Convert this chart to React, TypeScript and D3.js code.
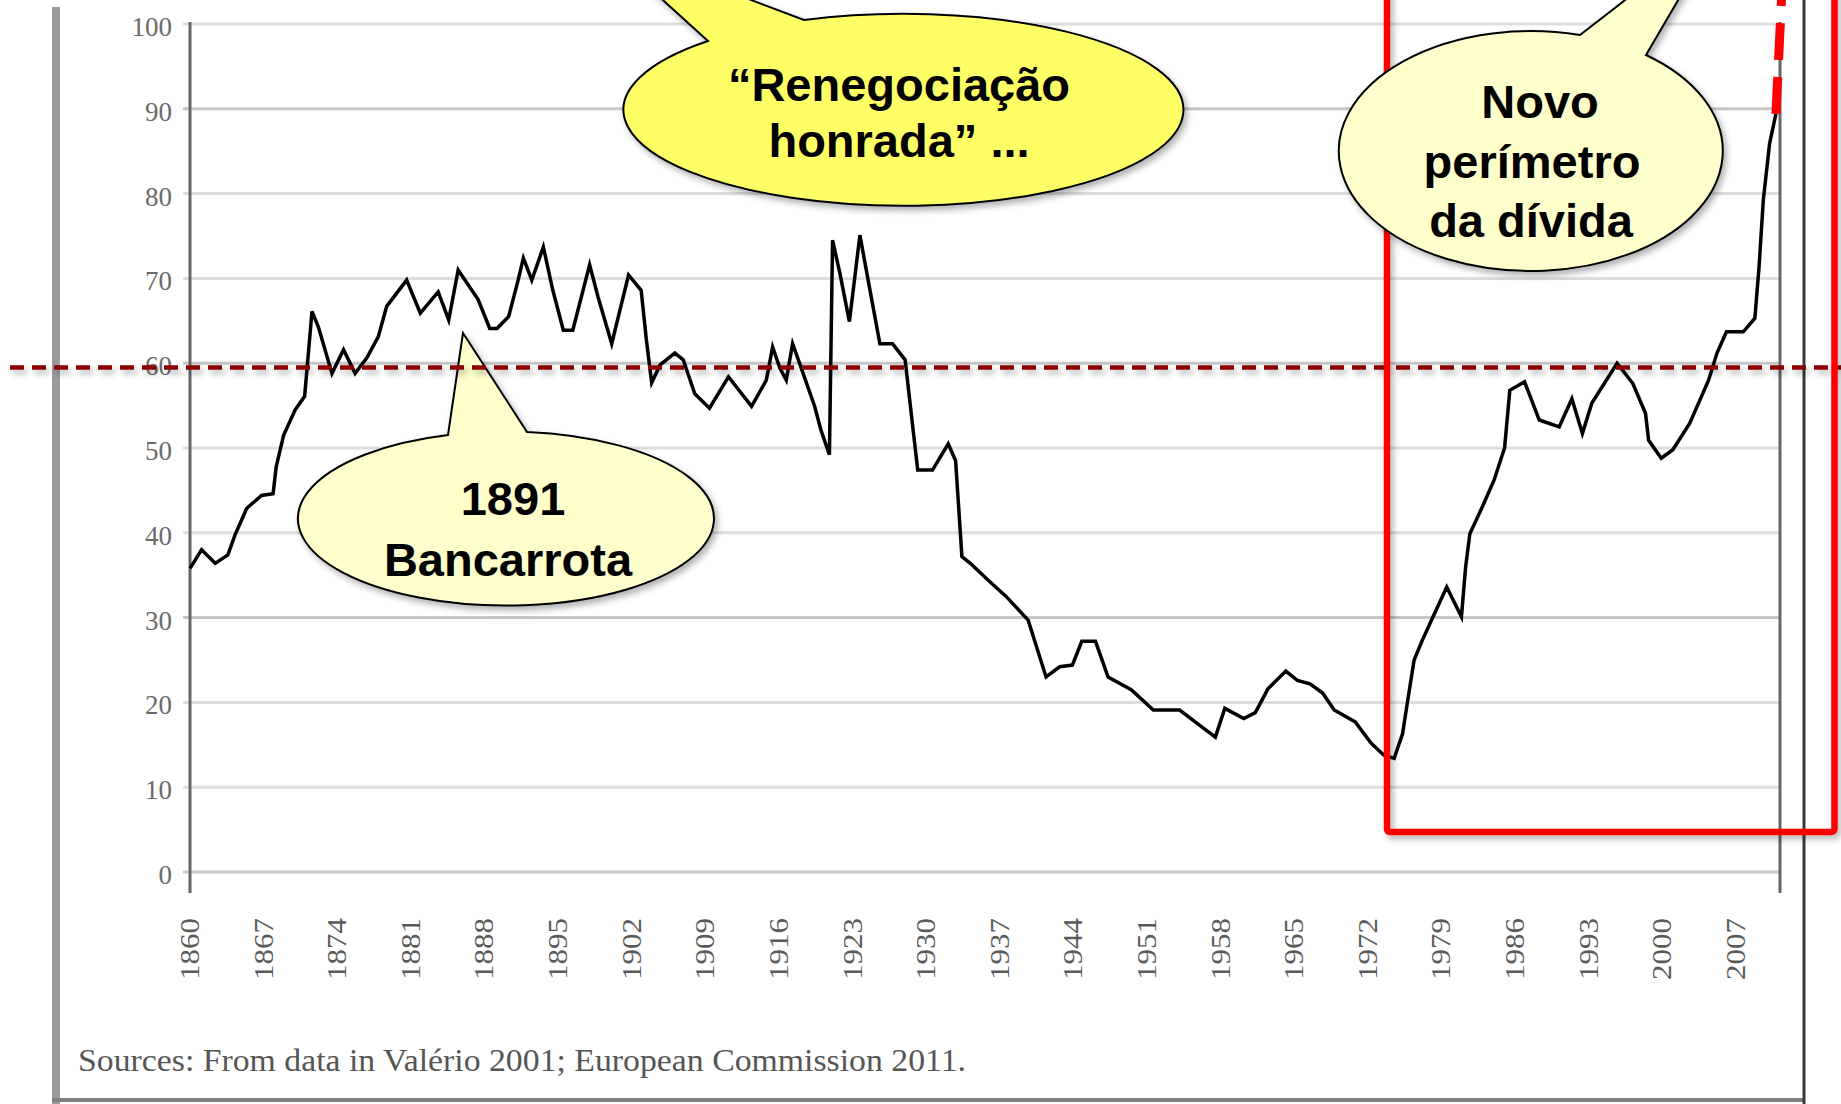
import { useEffect, useRef } from 'react';
import * as d3 from 'd3';

// public debt, % of GDP (year, value)
const debtSeries: [number, number][] = [
  [1860, 35.8], [1861.1, 38.0], [1862.4, 36.4], [1863.6, 37.4], [1864.3, 39.8],
  [1865.4, 42.9], [1866.8, 44.4], [1867.9, 44.6], [1868.2, 47.8], [1868.9, 51.5],
  [1870, 54.5], [1870.9, 56.1], [1871.6, 66.1], [1872.2, 64.3], [1873.5, 58.8],
  [1874.6, 61.6], [1875.7, 58.8], [1876.8, 60.6], [1877.9, 63.1], [1878.7, 66.7],
  [1880.6, 69.8], [1881.9, 65.9], [1883.6, 68.4], [1884.6, 65.1], [1885.5, 71.0],
  [1887.4, 67.5], [1888.5, 64.1], [1889.2, 64.1], [1890.3, 65.5], [1891.2, 69.8],
  [1891.7, 72.4], [1892.5, 69.8], [1893.6, 73.7], [1894.5, 68.6], [1895.5, 63.9],
  [1896.4, 63.9], [1898, 71.6], [1898.8, 67.8], [1900.1, 62.3], [1901.7, 70.4],
  [1902.9, 68.6], [1903.4, 62.7], [1903.9, 57.7], [1904.7, 59.8], [1906.1, 61.2],
  [1906.9, 60.4], [1908, 56.4], [1909.4, 54.7], [1911.2, 58.4], [1913.4, 54.9],
  [1914.8, 58.0], [1915.4, 61.9], [1916.1, 59.4], [1916.7, 58.0], [1917.3, 62.3],
  [1918.3, 58.8], [1919.4, 54.9], [1920, 52.1], [1920.8, 49.2], [1921.1, 74.5],
  [1921.8, 70.6], [1922.7, 64.9], [1923.7, 75.1], [1924.6, 69.0], [1925.6, 62.3],
  [1926.8, 62.3], [1928, 60.4], [1928.8, 51.7], [1929.2, 47.4], [1930.6, 47.4],
  [1932.1, 50.5], [1932.8, 48.5], [1933.4, 37.2], [1934.2, 36.4], [1935.9, 34.4],
  [1937.6, 32.5], [1939.7, 29.7], [1941.4, 23.0], [1942.7, 24.2], [1943.9, 24.4],
  [1944.8, 27.2], [1946.1, 27.2], [1947.3, 23.0], [1949.5, 21.5], [1951.6, 19.1],
  [1954.1, 19.1], [1955.8, 17.5], [1957.5, 15.9], [1958.4, 19.3], [1960.2, 18.1],
  [1961.3, 18.8], [1962.5, 21.6], [1964.2, 23.7], [1965.3, 22.6], [1966.5, 22.2],
  [1967.7, 21.1], [1968.8, 19.1], [1970.8, 17.7], [1972.3, 15.2], [1973.5, 13.8],
  [1974.5, 13.4], [1975.3, 16.3], [1975.8, 20.3], [1976.4, 25.0], [1977.2, 27.4],
  [1978.2, 30.1], [1979.5, 33.6], [1980.9, 30.1], [1981.3, 36.0], [1981.7, 39.9],
  [1982.9, 43.1], [1984, 46.2], [1985, 50.0], [1985.5, 56.8], [1986.9, 57.8],
  [1988.3, 53.3], [1990.2, 52.5], [1991.4, 55.8], [1992.4, 51.7], [1993.3, 55.3],
  [1995.7, 60.0], [1997.2, 57.6], [1998.4, 54.1], [1998.7, 50.9], [1999.9, 48.8],
  [2001, 49.8], [2002.6, 52.9], [2004.4, 58.0], [2005.2, 61.2], [2006.1, 63.7],
  [2007.7, 63.7], [2008.8, 65.3], [2009.2, 71.4], [2009.6, 79.2], [2010.2, 85.9],
  [2010.8, 89.4],
];

// red dashed continuation past the top of the chart
const debtExtension: [number, number][] = [[2010.8, 89.4], [2011.85, 116]];

const referenceLevel = 59.5;
const yTicks = [0, 10, 20, 30, 40, 50, 60, 70, 80, 90, 100];
const xTickYears = [
  1860, 1867, 1874, 1881, 1888, 1895, 1902, 1909, 1916, 1923, 1930,
  1937, 1944, 1951, 1958, 1965, 1972, 1979, 1986, 1993, 2000, 2007,
];
const sourceNote = 'Sources: From data in Valério 2001; European Commission 2011.';

const bubbles = [
  {
    lines: ['\u201cRenegociação', 'honrada\u201d ...'],
    fill: '#ffff66',
    cx: 898, cy: 112, rx: 280, ry: 96,
    baseL: [708, 41], tip: [600, -57], baseR: [804, 20],
    text: [[899, 101], [899, 157]],
  },
  {
    lines: ['1891', 'Bancarrota'],
    fill: '#ffffcc',
    cx: 506, cy: 520, rx: 208, ry: 87,
    baseL: [448, 435], tip: [463, 333], baseR: [527, 432],
    text: [[513, 515], [508, 576]],
  },
  {
    lines: ['Novo', 'perímetro', 'da dívida'],
    fill: '#ffffcc',
    cx: 1531, cy: 152, rx: 192, ry: 120,
    baseL: [1580, 35], tip: [1722, -75], baseR: [1646, 55],
    text: [[1540, 118], [1532, 178], [1531, 237]],
  },
];

function DebtChart() {
  const ref = useRef<SVGSVGElement>(null);

  useEffect(() => {
    const width = 1841;
    const height = 1104;
    const svg = d3.select(ref.current);
    svg.selectAll('*').remove();
    svg.attr('width', width).attr('height', height);

    // soft drop shadow, in user space so flat lines keep it too
    const defs = svg.append('defs');
    const f = defs.append('filter').attr('id', 'shadow')
      .attr('filterUnits', 'userSpaceOnUse')
      .attr('x', -200).attr('y', -200).attr('width', width + 400).attr('height', height + 400);
    f.append('feDropShadow').attr('dx', 3).attr('dy', 4).attr('stdDeviation', 3)
      .attr('flood-color', '#000').attr('flood-opacity', 0.3);

    const x = d3.scaleLinear().domain([1860, 2011]).range([190, 1778]);
    const y = d3.scaleLinear().domain([0, 100]).range([872, 24]);
    const plotRight = 1780;
    const axisTop = 22;
    const axisBottom = 893;

    // outer frame of the pasted picture
    svg.append('line').attr('x1', 56).attr('x2', 56).attr('y1', 7).attr('y2', height)
      .attr('stroke', '#9a9a9a').attr('stroke-width', 8);
    svg.append('line').attr('x1', 52).attr('x2', 1804).attr('y1', 1100).attr('y2', 1100)
      .attr('stroke', '#808080').attr('stroke-width', 4);
    svg.append('line').attr('x1', 1804).attr('x2', 1804).attr('y1', 0).attr('y2', height)
      .attr('stroke', '#3a3a3a').attr('stroke-width', 3);

    // gridlines
    svg.append('g').selectAll('line').data(yTicks).enter().append('line')
      .attr('x1', 183).attr('x2', plotRight)
      .attr('y1', (d) => y(d)).attr('y2', (d) => y(d))
      .attr('stroke', (d, i) => (i % 3 === 0 ? '#c6c6c6' : '#dddddd'))
      .attr('stroke-width', 3);

    // axis lines
    svg.append('line').attr('x1', x(1860)).attr('x2', x(1860)).attr('y1', axisTop).attr('y2', axisBottom)
      .attr('stroke', '#666').attr('stroke-width', 3);
    svg.append('line').attr('x1', plotRight).attr('x2', plotRight).attr('y1', axisTop).attr('y2', axisBottom)
      .attr('stroke', '#666').attr('stroke-width', 3);

    // y labels
    svg.append('g').selectAll('text').data(yTicks).enter().append('text')
      .attr('x', 172).attr('y', (d) => y(d) + 3)
      .attr('text-anchor', 'end').attr('dominant-baseline', 'central')
      .attr('font-family', '"Liberation Serif", "Times New Roman", serif')
      .attr('font-size', 27).attr('fill', '#6a6a6a')
      .text((d) => d);

    // x labels (rotated)
    svg.append('g').selectAll('text').data(xTickYears).enter().append('text')
      .attr('transform', (d) => `translate(${x(d)},918) rotate(-90)`)
      .attr('text-anchor', 'end').attr('dominant-baseline', 'central')
      .attr('font-family', '"Liberation Serif", "Times New Roman", serif')
      .attr('font-size', 27).attr('fill', '#5a5a5a')
      .attr('textLength', 62).attr('lengthAdjust', 'spacingAndGlyphs')
      .text((d) => d);

    // source note
    svg.append('text').attr('x', 78).attr('y', 1071)
      .attr('font-family', '"Liberation Serif", "Times New Roman", serif')
      .attr('font-size', 31).attr('fill', '#555')
      .attr('textLength', 888).attr('lengthAdjust', 'spacingAndGlyphs')
      .text(sourceNote);

    // debt line
    const line = d3.line<[number, number]>().x((d) => x(d[0])).y((d) => y(d[1]));
    svg.append('path').datum(debtSeries).attr('d', line)
      .attr('fill', 'none').attr('stroke', '#000').attr('stroke-width', 3.5)
      .attr('stroke-linejoin', 'miter');

    const drawBubble = (b: typeof bubbles[number]) => {
      const g = svg.append('g');
      const d = `M${b.baseL[0]},${b.baseL[1]} L${b.tip[0]},${b.tip[1]} L${b.baseR[0]},${b.baseR[1]} ` +
        `A${b.rx},${b.ry} 0 1 1 ${b.baseL[0]},${b.baseL[1]} Z`;
      g.append('path').attr('d', d).attr('fill', b.fill)
        .attr('stroke', '#000').attr('stroke-width', 2).attr('filter', 'url(#shadow)');
      b.lines.forEach((t, i) => {
        g.append('text').attr('x', b.text[i][0]).attr('y', b.text[i][1])
          .attr('text-anchor', 'middle')
          .attr('font-family', '"Liberation Sans", Arial, sans-serif')
          .attr('font-weight', 'bold').attr('font-size', 47).attr('fill', '#000')
          .text(t);
      });
    };

    drawBubble(bubbles[1]);

    // 60% reference line
    svg.append('line').attr('x1', 10).attr('x2', width)
      .attr('y1', y(referenceLevel)).attr('y2', y(referenceLevel))
      .attr('stroke', '#8b0000').attr('stroke-width', 4.5)
      .attr('stroke-dasharray', '14,8').attr('filter', 'url(#shadow)');

    // highlight box
    svg.append('rect').attr('x', 1387).attr('y', -20).attr('width', 447.5).attr('height', 852)
      .attr('rx', 3).attr('fill', 'none').attr('stroke', '#ff0000').attr('stroke-width', 6.5)
      .attr('filter', 'url(#shadow)');

    svg.append('path').datum(debtExtension).attr('d', line)
      .attr('fill', 'none').attr('stroke', '#ff0000').attr('stroke-width', 9)
      .attr('stroke-dasharray', '37,17');

    drawBubble(bubbles[0]);
    drawBubble(bubbles[2]);
  }, []);

  return <svg ref={ref} style={{ position: 'absolute', left: 0, top: 0, background: '#fff' }}></svg>;
}

export default function App() {
  return <DebtChart />;
}
